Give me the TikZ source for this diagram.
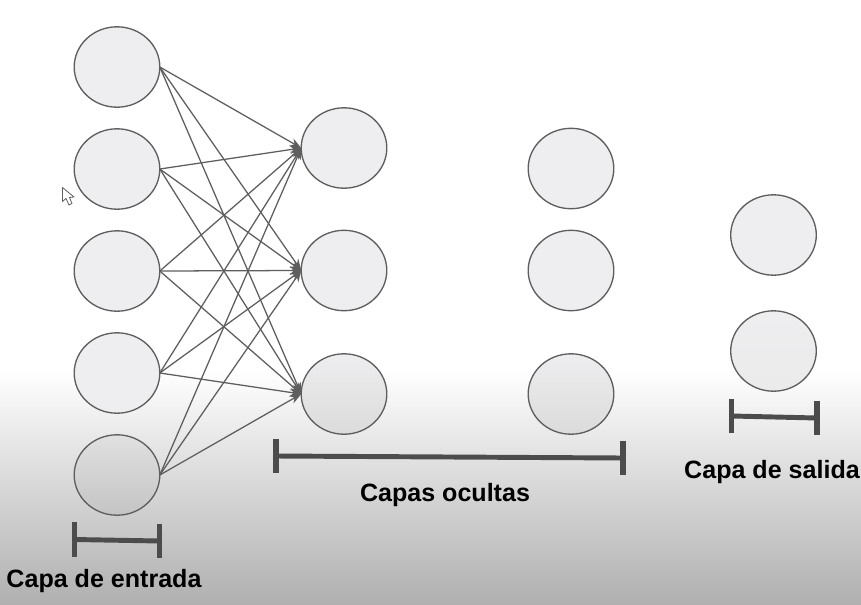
\documentclass[tikz,border=0pt]{standalone}
\usepackage{fontspec}
\setmainfont{Liberation Sans}
\usepackage{tikz}
\usetikzlibrary{arrows.meta,positioning,shapes.geometric}
\definecolor{colLine}{HTML}{5E5E5E}
\definecolor{colCell}{HTML}{EEEEF0}
\definecolor{colBar}{HTML}{4C4C4C}

\begin{document}
\begin{tikzpicture}[
  x=0.75pt, y=-0.75pt,
  cell/.style={draw=colLine, ellipse, line width=1pt, minimum width=64.2pt, minimum height=60.3pt,
               inner sep=0pt, outer sep=0pt, fill=colCell},
  arr/.style={-{Stealth[length=8.5pt,width=6.5pt]}, line width=0.95pt, colLine},
  span/.style={line width=3.7pt, colBar},
  tick/.style={line width=4pt, colBar},
  lbl/.style={font=\bfseries\fontsize{18.8}{22}\selectfont, text=black, inner sep=0pt}
]
  % page and the grey fade at the bottom
  \fill[white] (0,0) rectangle (861,372);
  \shade[top color=white, bottom color=black!31, shading angle=0] (0,370) rectangle (861,604);
  \useasboundingbox (0,0) rectangle (861,604);

  % input layer
  \node[cell] (in1) at (117,67) {};
  \node[cell, below=16.2pt of in1] (in2) {};
  \node[cell, below=16.2pt of in2] (in3) {};
  \node[cell, below=16.2pt of in3] (in4) {};
  \node[cell, below=16.2pt of in4, top color=black!12, bottom color=black!23] (in5) {};

  % hidden layers
  \node[cell] (hida1) at (344,148) {};
  \node[cell] (hida2) at (344,270.5) {};
  \node[cell, top color=colCell, bottom color=black!14] (hida3) at (344,394) {};
  \node[cell] (hidb1) at (571,168.5) {};
  \node[cell] (hidb2) at (571,270.5) {};
  \node[cell, top color=colCell, bottom color=black!14] (hidb3) at (571,394) {};

  % output layer
  \node[cell] (out1) at (773.5,235) {};
  \node[cell, top color=colCell, bottom color=black!8] (out2) at (773.5,351) {};

  \foreach \i in {1,...,5}
    \foreach \j in {1,2,3}
      \draw[arr] (in\i.east) -- (hida\j.west);

  % brackets
  \coordinate (brinL) at (74.5,539.5);
  \coordinate (brinR) at (159.5,541);
  \coordinate (brhidL) at (276,456);
  \coordinate (brhidR) at (623,458);
  \coordinate (broutL) at (731.5,416);
  \coordinate (broutR) at (817,418);
  \draw[span] (brinL) -- (brinR);
  \draw[span] (brhidL) -- (brhidR);
  \draw[span] (broutL) -- (broutR);
  \foreach \p in {brinL,brinR,brhidL,brhidR,broutL,broutR}
    \draw[tick] ([yshift=13pt]\p) -- ([yshift=-13pt]\p);

  \node[lbl] (lblin) at (104,581) {Capa de entrada};
  \node[lbl] (lblhid) at (445,495) {Capas ocultas};
  \node[lbl] (lblout) at (772,472) {Capa de salida};

  % mouse pointer
  \draw[line width=0.6pt, colLine, fill=white, line join=round]
    (62.5,187.5) -- (62.5,201.5) -- (66,198.5) -- (69,205) -- (72,203.5) -- (69.5,197.5) -- (74,197) -- cycle;
\end{tikzpicture}
\end{document}
